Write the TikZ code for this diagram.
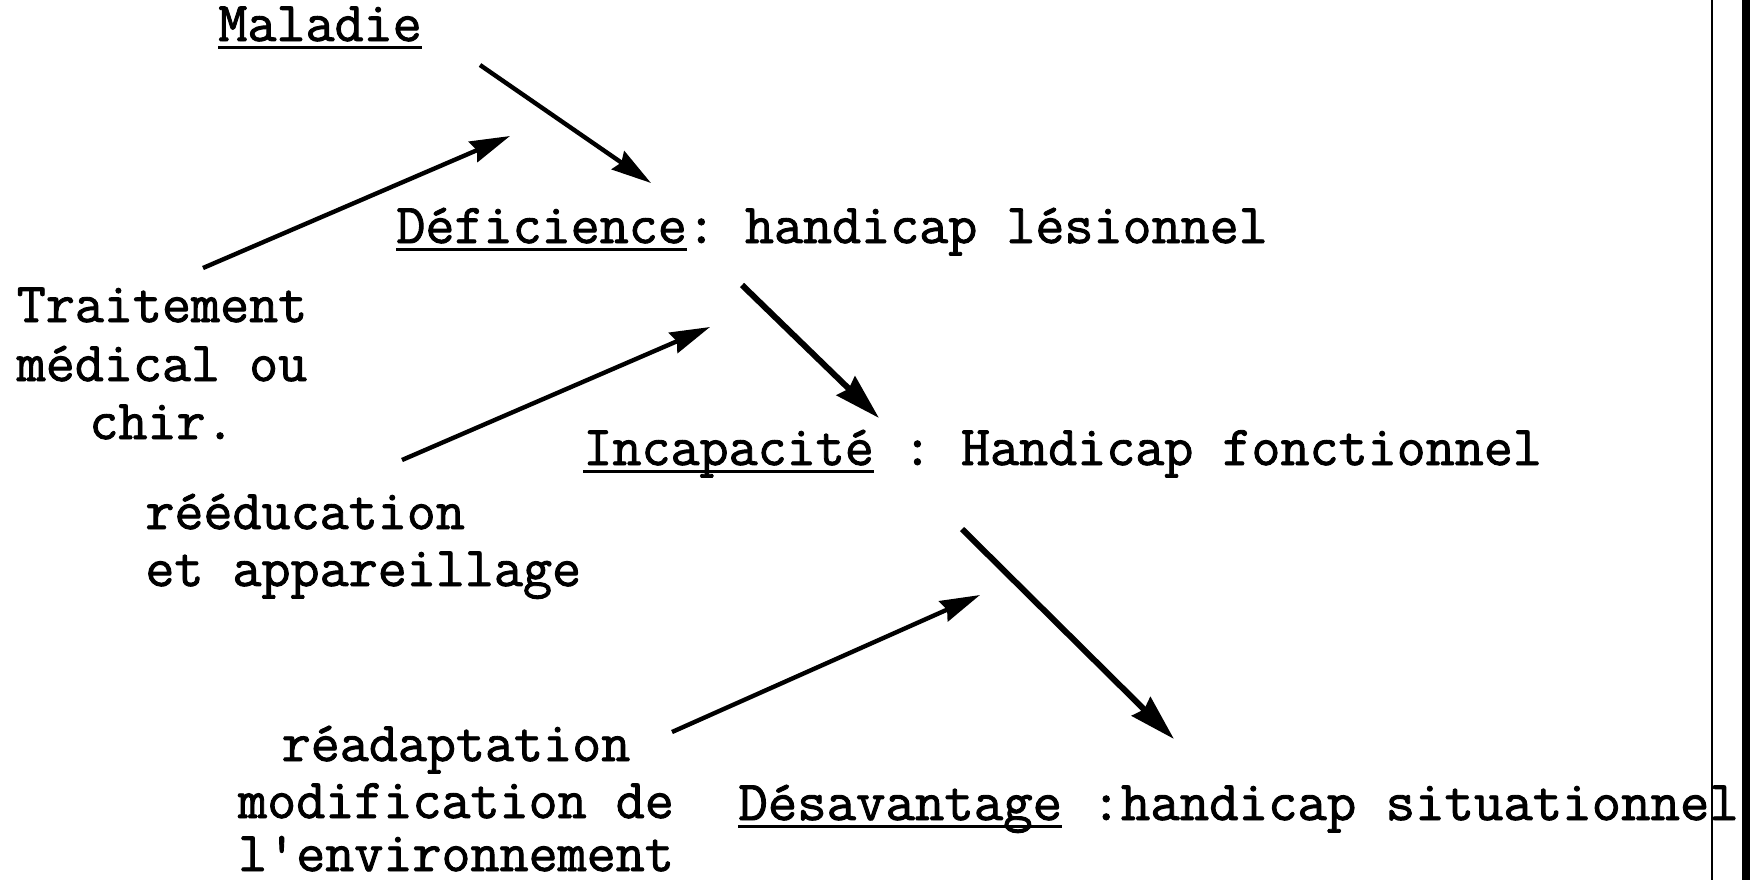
\documentclass[tikz,border=0pt]{standalone}
\usepackage{fontspec}
\setmainfont{Latin Modern Mono}[FakeBold=1.6]
\usetikzlibrary{arrows.meta}
\newcommand\ulword[1]{\setbox0\hbox{#1}\rlap{\rule[-4pt]{\wd0}{1.6pt}}\box0\relax}
\frenchspacing
\begin{document}
\begin{tikzpicture}[x=0.5pt,y=-0.5pt,
  txt/.style={font=\fontsize{28.2}{30}\selectfont, inner sep=0pt, anchor=base west},
  ctxt/.style={font=\fontsize{28.2}{30}\selectfont, inner sep=0pt, anchor=base},
  arr/.style={line width=2.2pt, -{Stealth[length=20pt,width=11pt,inset=2pt]}},
  darr/.style={line width=3pt, -{Stealth[length=23pt,width=13pt,inset=2pt]}}]
\useasboundingbox (0,0) rectangle (1750,880);
% right border
\draw[line width=1pt] (1712,0) -- (1712,880);
\fill (1742,0) rectangle (1750,880);
% texts
\node[txt] (mal) at (218,41) {\ulword{Maladie}};
\node[txt] (def) at (396,243) {\ulword{Déficience}: handicap lésionnel};
\node[ctxt] (t1) at (162,322) {Traitement};
\node[ctxt] (t2) at (162,381) {médical ou};
\node[ctxt] (t3) at (162,439) {chir.};
\node[txt] (inc) at (583,465) {\ulword{Incapacité} : Handicap fonctionnel};
\node[txt] (r1) at (145,529) {rééducation};
\node[txt] (r2) at (145,586) {et appareillage};
\node[ctxt] (a1) at (456,761) {réadaptation};
\node[ctxt] (a2) at (456,818) {modification de};
\node[ctxt] (a3) at (456,871) {l\textquotesingle environnement};
\node[txt, xscale=1.013] (des) at (738,820) {\ulword{Désavantage} :handicap situationnel};
% arrow ends
\coordinate (p1s) at (480,65);  \coordinate (p1e) at (651,183);
\coordinate (p2s) at (203,268); \coordinate (p2e) at (510,136);
\coordinate (p3s) at (742,285); \coordinate (p3e) at (879,418);
\coordinate (p4s) at (402,460); \coordinate (p4e) at (710,327);
\coordinate (p5s) at (962,529); \coordinate (p5e) at (1174,739);
\coordinate (p6s) at (672,732); \coordinate (p6e) at (980,595);
\draw[arr] (p1s) -- (p1e);
\draw[arr] (p2s) -- (p2e);
\draw[darr] (p3s) -- (p3e);
\draw[arr] (p4s) -- (p4e);
\draw[darr] (p5s) -- (p5e);
\draw[arr] (p6s) -- (p6e);
\end{tikzpicture}
\end{document}
